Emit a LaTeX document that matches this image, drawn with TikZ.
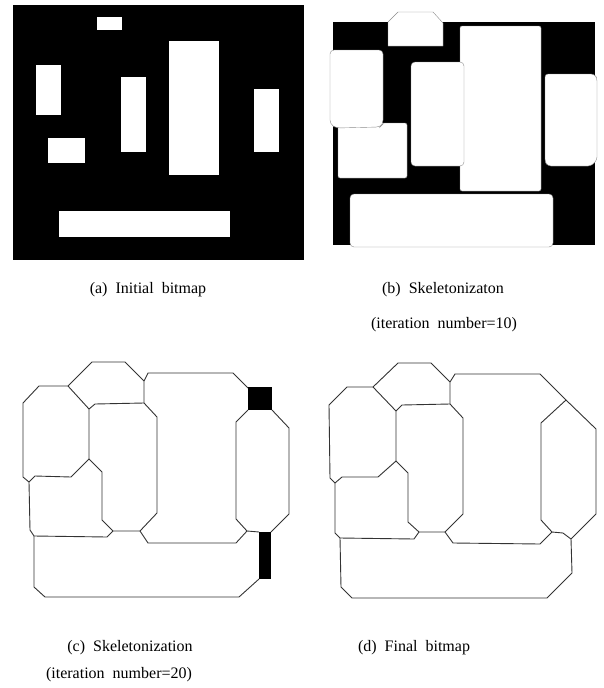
\documentclass[tikz,border=0pt]{standalone}
\usepackage{fontspec}
\setmainfont{Liberation Serif}
\usetikzlibrary{positioning}
\tikzset{
  bitmap/.style={fill=black},
  hole/.style={fill=white},
  blob/.style={fill=white, draw=black!45, line width=0.4pt},
  skel/.style={draw=black!80, line width=0.9pt, line join=round},
  bar/.style={fill=black},
  caption/.style={font=\fontsize{16}{19}\selectfont, inner sep=0pt}
}

\begin{document}
\begin{tikzpicture}[x=1pt, y=-1pt]
\useasboundingbox (0,0) rectangle (603,688);

% (a) bitmap inicial
\fill[bitmap] (13,5) rectangle (304,260);
\fill[hole] (97,17) rectangle (122,30);
\fill[hole] (36,65) rectangle (61,115);
\fill[hole] (48,138) rectangle (85,163);
\fill[hole] (121,77) rectangle (146,152);
\fill[hole] (169,41) rectangle (219,175);
\fill[hole] (254,89) rectangle (279,152);
\fill[hole] (59,211) rectangle (230,237);

% (b) 10 iteraciones
\fill[bitmap] (333,22) rectangle (595,245);
\draw[blob, rounded corners=2pt] (460,26) rectangle (541,191);
\draw[blob] (388,46) -- (388,22) -- (398,12) -- (433,12) -- (443,23) -- (443,46) -- cycle;
\draw[blob, rounded corners=2pt] (338,123) rectangle (407,178);
\draw[blob, rounded corners=4pt] (330,50) -- (383,50) -- (383,124) -- (380,127) -- (336,128) -- (330,124) -- cycle;
\draw[blob, rounded corners=4pt] (411,62) rectangle (464,166);
\draw[blob, rounded corners=3pt] (545,74) -- (594,74) -- (597,78) -- (597,160) -- (591,166) -- (548,166) -- (545,162) -- cycle;
\draw[blob, rounded corners=4pt] (350,194) rectangle (553,247);

% (c) 20 iteraciones
\draw[skel] (23,403) -- (39,386) -- (68,386) -- (92,362) -- (125,362) -- (144,381) -- (144,403);
\draw[skel] (68,386) -- (89,409) -- (89,459);
\draw[skel] (23,403) -- (23,477) -- (29,482) -- (35,476) -- (71,477) -- (89,459) -- (102,472) -- (102,520) -- (113,531) -- (140,531);
\draw[skel] (29,482) -- (30,530) -- (34,536) -- (107,537) -- (113,531);
\draw[skel] (89,409) -- (95,404) -- (144,403) -- (157,417) -- (157,513) -- (140,531);
\draw[skel] (144,381) -- (148,373) -- (233,373) -- (248,388);
\fill[bar] (248,387) rectangle (272,410);
\draw[skel] (248,410) -- (236,422) -- (236,519) -- (247,531) -- (259,532);
\draw[skel] (272,410) -- (289,428) -- (289,514) -- (271,532);
\draw[skel] (140,531) -- (148,543) -- (236,543) -- (247,531);
\fill[bar] (259,532) rectangle (271,579);
\draw[skel] (34,536) -- (34,587) -- (45,597) -- (239,597) -- (259,579);

% (d) bitmap final
\draw[skel] (329,405) -- (347,387) -- (373,387) -- (398,363) -- (431,363) -- (450,382) -- (450,404);
\draw[skel] (373,387) -- (396,411) -- (396,461);
\draw[skel] (329,405) -- (330,478) -- (335,483) -- (342,477) -- (378,477) -- (396,461) -- (408,473) -- (408,522) -- (419,532) -- (445,532);
\draw[skel] (335,483) -- (335,533) -- (340,538) -- (414,539) -- (419,532);
\draw[skel] (396,411) -- (402,405) -- (450,404) -- (463,418) -- (463,514) -- (445,532);
\draw[skel] (450,382) -- (455,374) -- (540,374) -- (566,400);
\draw[skel] (566,400) -- (541,423) -- (541,520) -- (552,532) -- (563,533) -- (571,539);
\draw[skel] (566,400) -- (596,429) -- (596,514) -- (571,539);
\draw[skel] (445,532) -- (453,543) -- (540,544) -- (552,532);
\draw[skel] (340,538) -- (341,587) -- (352,598) -- (547,598) -- (572,573) -- (571,539);

% leyendas
\node[caption] (capa) at (148,290) {(a)\ \ Initial\ \ bitmap};
\node[caption] (capb) at (443,290) {(b)\ \ Skeletonizaton};
\node[caption] (itb) at (444,325) {(iteration\ \ number=10)};
\node[caption] (capc) at (130,648) {(c)\ \ Skeletonization};
\node[caption] (itc) at (119,675) {(iteration\ \ number=20)};
\node[caption] (capd) at (414,648) {(d)\ \ Final\ \ bitmap};
\end{tikzpicture}
\end{document}
